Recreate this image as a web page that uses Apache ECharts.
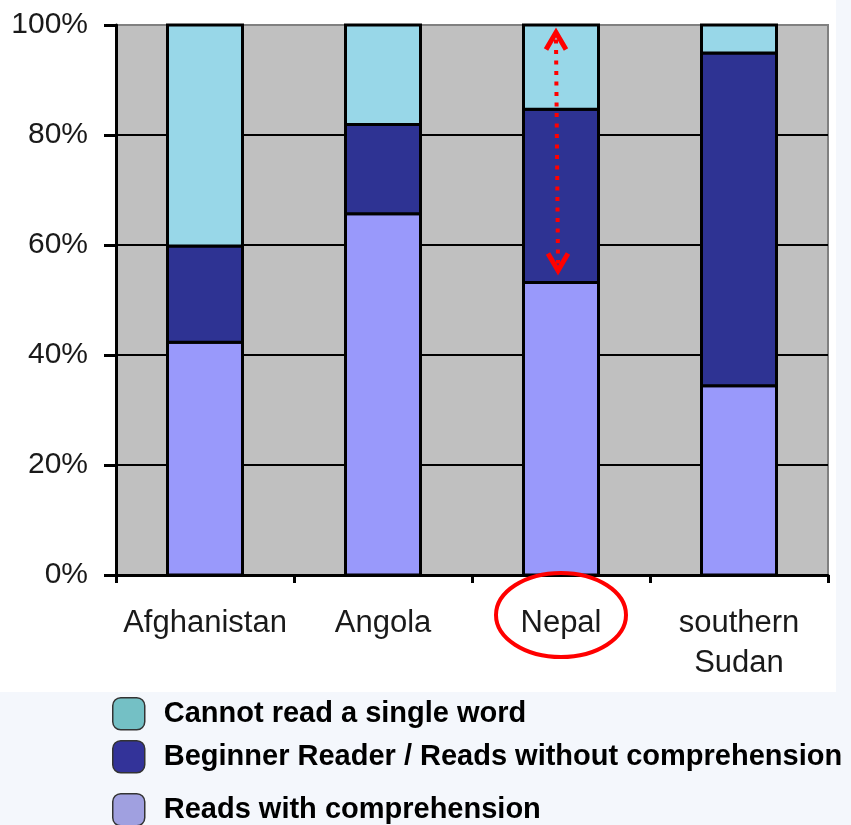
<!DOCTYPE html>
<html>
<head>
<meta charset="utf-8">
<script src="https://cdn.jsdelivr.net/npm/echarts@6/dist/echarts.min.js"></script>
<style>
  html, body { margin: 0; padding: 0; background: #f4f7fc; }
  #main { width: 851px; height: 825px; }
</style>
</head>
<body>
<div id="main"></div>
<script>
// categories and stacked shares (percent), bottom to top
var categories = ['Afghanistan', 'Angola', 'Nepal', 'southern\nSudan'];
var readsWithComprehension = [42.3, 65.7, 53.2, 34.4];
var beginnerReader = [17.5, 16.2, 31.5, 60.5];
var cannotRead = [40.2, 18.1, 15.3, 5.1];
var seriesNames = ['Reads with comprehension', 'Beginner Reader / Reads without comprehension', 'Cannot read a single word'];
var yTicks = [0, 20, 40, 60, 80, 100];
// dotted arrow on Nepal (from / to, percent)
var arrowRange = [99, 55];

var chart = echarts.init(document.getElementById('main'), null, { renderer: 'canvas' });
var font = 'Liberation Sans, Arial, sans-serif';

function legendItem(name, color, top) {
  return {
    left: 112,
    top: top,
    padding: 0,
    itemWidth: 32,
    itemHeight: 32,
    icon: 'roundRect',
    selectedMode: false,
    data: [{
      name: name,
      itemStyle: { color: color, borderColor: '#333', borderWidth: 1.5 }
    }],
    textStyle: {
      fontFamily: font,
      fontSize: 29,
      fontWeight: 'bold',
      color: '#000',
      padding: [0, 0, 0, 14]
    }
  };
}

// one stacked layer drawn as outlined rects so shared edges make one line
function stackLayer(name, values, bases, color) {
  return {
    name: name,
    type: 'custom',
    data: values.map(function (v, i) { return [i, bases[i], bases[i] + v]; }),
    encode: { x: 0, y: [1, 2] },
    renderItem: function (params, api) {
      var p0 = api.coord([api.value(0), api.value(1)]);
      var p1 = api.coord([api.value(0), api.value(2)]);
      var w = 75;
      return {
        type: 'rect',
        shape: { x: p0[0] - w / 2, y: p1[1], width: w, height: p0[1] - p1[1] },
        style: { fill: color, stroke: '#000', lineWidth: 3 }
      };
    }
  };
}

var zeros = categories.map(function () { return 0; });
var base2 = readsWithComprehension.slice();
var base3 = readsWithComprehension.map(function (v, i) { return v + beginnerReader[i]; });

var option = {
  animation: false,
  backgroundColor: 'transparent',
  grid: {
    left: 116,
    right: 23,
    top: 25,
    bottom: 250,
    show: true,
    backgroundColor: '#c0c0c0',
    borderColor: '#808080',
    borderWidth: 2
  },
  legend: [
    legendItem(seriesNames[2], '#74c0c5', 697),
    legendItem(seriesNames[1], '#333399', 740),
    legendItem(seriesNames[0], '#a0a0e0', 793)
  ],
  xAxis: {
    type: 'category',
    data: categories,
    axisLine: { lineStyle: { color: '#000', width: 3 } },
    axisTick: { show: true, length: 8, lineStyle: { color: '#000', width: 3 } },
    axisLabel: {
      fontFamily: font,
      fontSize: 31,
      color: '#1a1a1a',
      lineHeight: 40,
      margin: 28,
      interval: 0
    }
  },
  yAxis: {
    type: 'value',
    min: yTicks[0],
    max: yTicks[yTicks.length - 1],
    interval: yTicks[1] - yTicks[0],
    axisLine: { show: true, lineStyle: { color: '#000', width: 3 } },
    axisTick: { show: true, length: 12, lineStyle: { color: '#000', width: 3 } },
    axisLabel: {
      formatter: '{value}%',
      fontFamily: font,
      fontSize: 30,
      color: '#1a1a1a',
      margin: 28
    },
    splitLine: { show: true, showMaxLine: false, lineStyle: { color: '#000', width: 2 } }
  },
  series: [
    stackLayer(seriesNames[0], readsWithComprehension, zeros, '#9999fb'),
    stackLayer(seriesNames[1], beginnerReader, base2, '#2e3393'),
    stackLayer(seriesNames[2], cannotRead, base3, '#98d7e8')
  ]
};

chart.setOption(option);

// annotations: dotted double arrow on Nepal and a circle round its label
var topPt = chart.convertToPixel({ gridIndex: 0 }, ['Nepal', arrowRange[0]]);
var botPt = chart.convertToPixel({ gridIndex: 0 }, ['Nepal', arrowRange[1]]);
var axisY = chart.convertToPixel({ yAxisIndex: 0 }, 0);
var ax = topPt[0] - 5;
var red = '#ff0000';

chart.setOption({
  graphic: [{
    type: 'rect',
    z: -10,
    silent: true,
    shape: { x: 0, y: 0, width: 836, height: 692 },
    style: { fill: '#fff' }
  }, {
    type: 'line',
    z: 100,
    shape: { x1: ax, y1: topPt[1] + 9, x2: ax + 2, y2: botPt[1] - 9 },
    style: { stroke: red, lineWidth: 4, lineDash: [4, 6.5] }
  }, {
    type: 'polyline',
    z: 100,
    shape: { points: [[ax - 10, topPt[1] + 19], [ax, topPt[1] + 2], [ax + 10, topPt[1] + 19]] },
    style: { stroke: red, lineWidth: 5, fill: 'none' }
  }, {
    type: 'polyline',
    z: 100,
    shape: { points: [[ax - 8, botPt[1] - 19], [ax + 2, botPt[1] - 2], [ax + 12, botPt[1] - 19]] },
    style: { stroke: red, lineWidth: 5, fill: 'none' }
  }, {
    type: 'ellipse',
    z: 100,
    shape: { cx: topPt[0], cy: axisY + 40, rx: 65, ry: 42 },
    style: { fill: 'none', stroke: red, lineWidth: 4 }
  }]
});
</script>
</body>
</html>
